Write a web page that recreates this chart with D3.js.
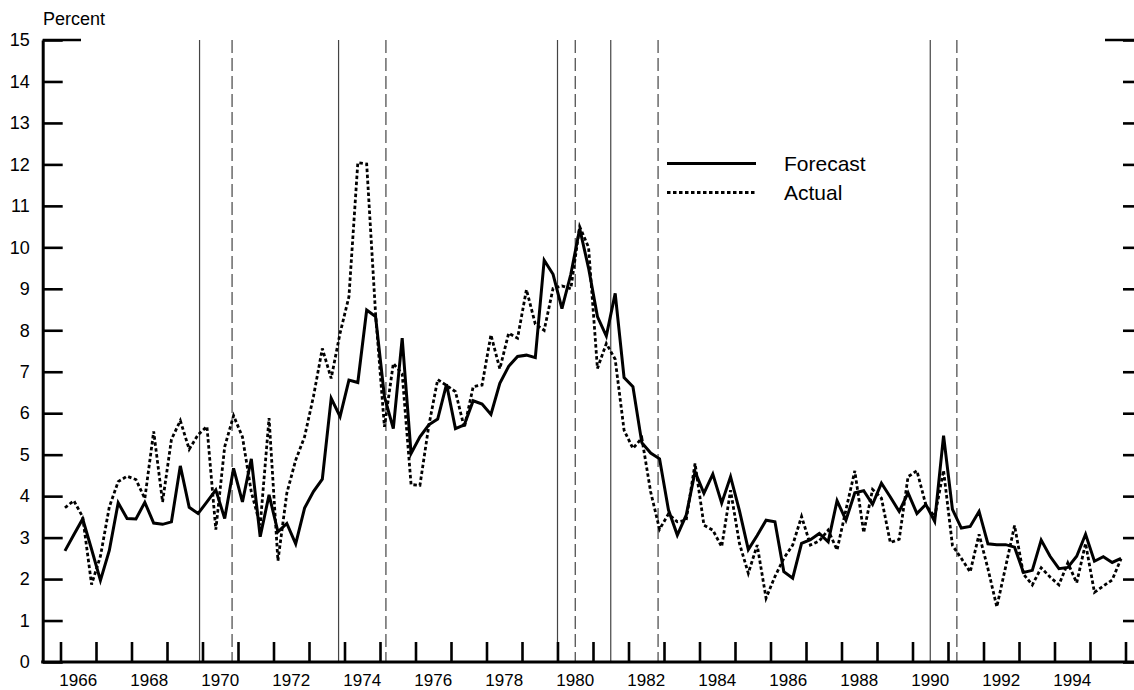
<!DOCTYPE html>
<html>
<head>
<meta charset="utf-8">
<script src="https://cdn.jsdelivr.net/npm/d3@7"></script>
<style>
  body { margin: 0; background: #fff; }
  svg { display: block; }
  text { font-family: "Liberation Sans", Arial, sans-serif; fill: #000; }
</style>
</head>
<body>
<div id="chart"></div>
<script>
// quarterly values, 1966Q1 .. 1995Q4
const forecast = [
  2.68, 3.07, 3.45, 2.72, 1.97, 2.69, 3.84, 3.46, 3.45, 3.85, 3.35, 3.32,
  3.38, 4.73, 3.73, 3.58, 3.86, 4.15, 3.46, 4.67, 3.86, 4.90, 3.02, 4.03,
  3.14, 3.34, 2.85, 3.71, 4.11, 4.41, 6.36, 5.92, 6.80, 6.74, 8.49, 8.33,
  6.40, 5.63, 7.81, 5.03, 5.43, 5.72, 5.86, 6.70, 5.63, 5.72, 6.30, 6.22,
  5.97, 6.72, 7.13, 7.37, 7.40, 7.34, 9.69, 9.35, 8.52, 9.35, 10.45, 9.50,
  8.33, 7.86, 8.89, 6.86, 6.64, 5.29, 5.04, 4.90, 3.67, 3.06, 3.54, 4.59,
  4.07, 4.53, 3.83, 4.47, 3.65, 2.71, 3.05, 3.42, 3.38, 2.18, 2.02, 2.86,
  2.95, 3.10, 2.90, 3.89, 3.42, 4.08, 4.13, 3.80, 4.31, 3.98, 3.63, 4.08,
  3.58, 3.80, 3.39, 5.46, 3.68, 3.23, 3.27, 3.63, 2.85, 2.83, 2.83, 2.77,
  2.16, 2.21, 2.94, 2.55, 2.25, 2.28, 2.55, 3.08, 2.43, 2.54, 2.40, 2.50
];
const actual = [
  3.72, 3.89, 3.50, 1.87, 2.55, 3.74, 4.35, 4.48, 4.40, 3.94, 5.56, 3.86,
  5.37, 5.82, 5.13, 5.48, 5.68, 3.19, 5.19, 5.94, 5.43, 4.10, 3.30, 5.88,
  2.44, 4.07, 4.87, 5.43, 6.40, 7.56, 6.84, 7.93, 8.81, 12.04, 12.01, 8.40,
  5.67, 7.20, 6.95, 4.28, 4.26, 5.70, 6.81, 6.67, 6.52, 5.65, 6.64, 6.68,
  7.89, 7.07, 7.93, 7.81, 8.98, 8.15, 8.00, 9.01, 9.07, 9.00, 10.50, 10.00,
  7.08, 7.68, 7.30, 5.59, 5.15, 5.40, 4.10, 3.20, 3.57, 3.38, 3.42, 4.79,
  3.30, 3.18, 2.78, 4.14, 2.86, 2.14, 2.82, 1.54, 2.06, 2.50, 2.82, 3.51,
  2.82, 2.92, 3.18, 2.70, 3.67, 4.61, 3.12, 4.16, 3.95, 2.88, 2.96, 4.47,
  4.61, 3.79, 3.50, 4.62, 2.81, 2.50, 2.17, 3.08, 2.25, 1.33, 2.30, 3.29,
  2.12, 1.86, 2.27, 2.05, 1.86, 2.39, 1.91, 2.86, 1.68, 1.83, 1.98, 2.49
];
const firstYear = 1966;
const yearTicks = d3.range(1966, 1997);
const yearLabels = [1966, 1968, 1970, 1972, 1974, 1976, 1978, 1980, 1982, 1984, 1986, 1988, 1990, 1992, 1994];
const yTicks = [0, 1, 2, 3, 4, 5, 6, 7, 8, 9, 10, 11, 12, 13, 14, 15];
// business cycle peaks (solid) and troughs (dashed), decimal years
const peaks = [1969.917, 1973.833, 1980.0, 1981.5, 1990.5];
const troughs = [1970.833, 1975.167, 1980.5, 1982.833, 1991.25];

const svgWidth = 1134;
const svgHeight = 690;
const axisLeftX = 42.7;
const axisRightX = 1143;

const svg = d3.select("#chart")
  .append("svg")
  .attr("width", svgWidth)
  .attr("height", svgHeight);

const x = d3.scaleLinear().domain([1966, 1996]).range([60.5, 1125.5]);
const y = d3.scaleLinear().domain([0, 15]).range([662, 40]);

const qDate = i => firstYear + (i + 0.5) / 4;

// recession lines
svg.append("g").selectAll("line")
  .data(peaks)
  .join("line")
  .attr("x1", d => x(d)).attr("x2", d => x(d))
  .attr("y1", y(15)).attr("y2", y(0))
  .attr("stroke", "#444")
  .attr("stroke-width", 1.2);

svg.append("g").selectAll("line")
  .data(troughs)
  .join("line")
  .attr("x1", d => x(d)).attr("x2", d => x(d))
  .attr("y1", y(15)).attr("y2", y(0))
  .attr("stroke", "#444")
  .attr("stroke-width", 1.2)
  .attr("stroke-dasharray", "13,5");

// left axis
const leftAxis = svg.append("g")
  .attr("transform", `translate(${axisLeftX},0)`)
  .call(d3.axisLeft(y).tickValues(yTicks).tickSize(-20).tickSizeOuter(0).tickPadding(13));
leftAxis.select(".domain").attr("stroke-width", 3);
leftAxis.selectAll(".tick line").attr("stroke-width", 2.6);
leftAxis.selectAll(".tick text").style("font-size", "18px").style("font-family", "Liberation Sans, Arial, sans-serif");

// right axis (mirrored)
const rightAxis = svg.append("g")
  .attr("transform", `translate(${axisRightX},0)`)
  .call(d3.axisRight(y).tickValues(yTicks).tickSize(-20).tickSizeOuter(0).tickFormat(""));
rightAxis.select(".domain").attr("stroke-width", 3);
rightAxis.selectAll(".tick line").attr("stroke-width", 2.6);

// longer marks at the top
svg.append("line")
  .attr("x1", axisLeftX).attr("x2", 81)
  .attr("y1", y(15)).attr("y2", y(15))
  .attr("stroke", "#000").attr("stroke-width", 2.6);
svg.append("line")
  .attr("x1", 1105).attr("x2", axisRightX)
  .attr("y1", y(15)).attr("y2", y(15))
  .attr("stroke", "#000").attr("stroke-width", 2.6);

// bottom axis
const bottomAxis = svg.append("g")
  .attr("transform", `translate(0,${y(0)})`)
  .call(d3.axisBottom(x).tickValues(yearTicks).tickSize(-20).tickSizeOuter(0).tickFormat(""));
bottomAxis.select(".domain").remove();
bottomAxis.selectAll(".tick line").attr("stroke-width", 2.6);
svg.append("line")
  .attr("x1", axisLeftX - 1.5).attr("x2", svgWidth)
  .attr("y1", y(0)).attr("y2", y(0))
  .attr("stroke", "#000").attr("stroke-width", 3);

svg.append("g").selectAll("text")
  .data(yearLabels)
  .join("text")
  .attr("x", d => x(d + 0.5))
  .attr("y", 686)
  .attr("text-anchor", "middle")
  .style("font-size", "17px")
  .text(d => d);

svg.append("text")
  .attr("x", 43)
  .attr("y", 25)
  .style("font-size", "18px")
  .text("Percent");

// series
const line = d3.line()
  .x((d, i) => x(qDate(i)))
  .y(d => y(d));

svg.append("path")
  .datum(actual)
  .attr("fill", "none")
  .attr("stroke", "#000")
  .attr("stroke-width", 2.8)
  .attr("stroke-dasharray", "3.5,2.5")
  .attr("d", line);

svg.append("path")
  .datum(forecast)
  .attr("fill", "none")
  .attr("stroke", "#000")
  .attr("stroke-width", 3)
  .attr("stroke-linejoin", "miter")
  .attr("d", line);

// legend
const legend = svg.append("g");
const legendItems = [
  { name: "Forecast", dash: null, yPos: 163.5 },
  { name: "Actual", dash: "3.5,2.5", yPos: 192.5 }
];
legendItems.forEach(item => {
  legend.append("line")
    .attr("x1", 667).attr("x2", 756)
    .attr("y1", item.yPos).attr("y2", item.yPos)
    .attr("stroke", "#000")
    .attr("stroke-width", item.dash ? 2.8 : 3)
    .attr("stroke-dasharray", item.dash);
  legend.append("text")
    .attr("x", 784)
    .attr("y", item.yPos + 7.5)
    .style("font-size", "21px")
    .text(item.name);
});
</script>
</body>
</html>
